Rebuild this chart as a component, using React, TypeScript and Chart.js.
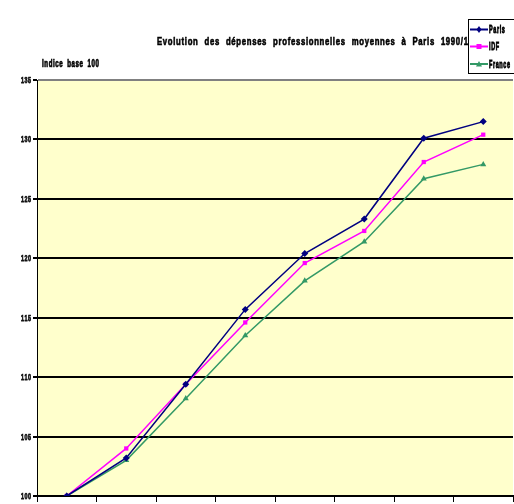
import React, { useEffect, useRef } from "react";
import { Chart, registerables } from "chart.js";

Chart.register(...registerables);

const years = ["1990", "1991", "1992", "1993", "1994", "1995", "1996", "1997"];
const parisValues = [100, 103.2, 109.4, 115.7, 120.4, 123.3, 130.1, 131.5];
const idfValues = [100, 104.0, 109.4, 114.6, 119.6, 122.3, 128.1, 130.4];
const franceValues = [100, 103.0, 108.2, 113.5, 118.1, 121.4, 126.7, 127.9];
const yMin = 100;
const yMax = 135;
const yStep = 5;
const titleText = "Evolution des dépenses professionnelles moyennes à Paris 1990/1997";
const yAxisTitle = "Indice base 100";
const seriesNames = ["Paris", "IDF", "France"];

const FONT = '"Liberation Sans", Arial, sans-serif';

// draws text char by char with horizontal compression to mimic a narrow bitmap font
function condensedWidth(ctx: CanvasRenderingContext2D, text: string, sx: number, gap: number, space: number) {
  let w = 0;
  for (const ch of text) {
    if (ch === " ") w += space;
    else w += ctx.measureText(ch).width * sx + gap;
  }
  return w - gap;
}

function drawCondensed(
  ctx: CanvasRenderingContext2D,
  text: string,
  x: number,
  y: number,
  sx: number,
  gap: number,
  space: number
) {
  let cx = x;
  ctx.strokeStyle = ctx.fillStyle as string;
  for (const ch of text) {
    if (ch === " ") {
      cx += space;
      continue;
    }
    const w = ctx.measureText(ch).width;
    ctx.save();
    ctx.translate(cx, y);
    ctx.scale(sx, 1);
    ctx.fillText(ch, 0, 0);
    ctx.lineWidth = 0.45 / sx;
    ctx.strokeText(ch, 0, 0);
    ctx.restore();
    cx += w * sx + gap;
  }
}

function fitScale(ctx: CanvasRenderingContext2D, text: string, target: number, gap: number, space: number) {
  let natural = 0;
  let n = 0;
  let s = 0;
  for (const ch of text) {
    if (ch === " ") s++;
    else {
      natural += ctx.measureText(ch).width;
      n++;
    }
  }
  return (target - s * space - (n - 1) * gap) / natural;
}

export default function App() {
  const ref = useRef<HTMLCanvasElement | null>(null);

  useEffect(() => {
    const canvas = ref.current;
    if (!canvas) return;

    const bgPlugin = {
      id: "bg",
      beforeDraw(chart: any) {
        const { ctx, chartArea } = chart;
        ctx.save();
        ctx.fillStyle = "#FFFFCC";
        ctx.fillRect(chartArea.left, chartArea.top, chartArea.right - chartArea.left, chartArea.bottom - chartArea.top);
        ctx.restore();
      },
    };

    const textPlugin = {
      id: "texts",
      afterDraw(chart: any) {
        const { ctx } = chart;
        ctx.save();
        ctx.fillStyle = "#000";
        ctx.textAlign = "left";
        ctx.textBaseline = "alphabetic";

        // title (prefix up to "1990/1" spans to the legend box)
        ctx.font = `bold 11px ${FONT}`;
        const prefix = titleText.slice(0, titleText.indexOf("1990/1") + 6);
        const tGap = 0.7, tSpace = 6;
        const tsx = fitScale(ctx, prefix, 311, tGap, tSpace);
        drawCondensed(ctx, titleText, 157, 44.5, tsx, tGap, tSpace);

        // y axis title
        ctx.font = `bold 10px ${FONT}`;
        const aGap = 0.6, aSpace = 4;
        const asx = fitScale(ctx, yAxisTitle, 57, aGap, aSpace);
        drawCondensed(ctx, yAxisTitle, 42, 67, asx, aGap, aSpace);

        // y tick labels
        const ys = chart.scales.y;
        ctx.font = `bold 9px ${FONT}`;
        ctx.fillStyle = "#111";
        ys.ticks.forEach((t: any) => {
          const label = String(t.value);
          const py = ys.getPixelForValue(t.value);
          const lsx = 0.6, lgap = 0.5;
          const w = condensedWidth(ctx, label, lsx, lgap, 2);
          drawCondensed(ctx, label, 31 - w, py + 3, lsx, lgap, 2);
        });

        // legend
        const lx = 468, ly = 19, lw = 60, lh = 54;
        ctx.fillStyle = "#fff";
        ctx.fillRect(lx, ly, lw, lh);
        ctx.strokeStyle = "#000";
        ctx.lineWidth = 1;
        ctx.strokeRect(lx + 0.5, ly + 0.5, lw, lh);
        const rows = [29.5, 46.5, 64];
        chart.data.datasets.forEach((ds: any, i: number) => {
          const y = rows[i];
          ctx.strokeStyle = ds.borderColor;
          ctx.lineWidth = 2;
          ctx.beginPath();
          ctx.moveTo(470, y);
          ctx.lineTo(488, y);
          ctx.stroke();
          ctx.fillStyle = ds.borderColor;
          const cx = 479;
          ctx.beginPath();
          if (ds.pointStyle === "rectRot") {
            ctx.moveTo(cx, y - 3.5);
            ctx.lineTo(cx + 2.5, y);
            ctx.lineTo(cx, y + 3.5);
            ctx.lineTo(cx - 2.5, y);
          } else if (ds.pointStyle === "rect") {
            ctx.rect(cx - 2.5, y - 2.5, 5, 5);
          } else {
            ctx.moveTo(cx, y - 3);
            ctx.lineTo(cx + 3, y + 2.5);
            ctx.lineTo(cx - 3, y + 2.5);
          }
          ctx.closePath();
          ctx.fill();
          ctx.fillStyle = "#000";
          ctx.font = `bold 10px ${FONT}`;
          ctx.textBaseline = "alphabetic";
          drawCondensed(ctx, ds.label, 489, y + 3.5, 0.55, 0.6, 3);
        });
        ctx.restore();
      },
    };

    const chart = new Chart(canvas, {
      type: "line",
      data: {
        labels: years,
        datasets: [
          {
            label: seriesNames[0],
            data: parisValues,
            borderColor: "#000080",
            backgroundColor: "#000080",
            borderWidth: 1.5,
            pointStyle: "rectRot",
            pointRadius: 3.5,
            pointBorderWidth: 0,
          },
          {
            label: seriesNames[1],
            data: idfValues,
            borderColor: "#FF00FF",
            backgroundColor: "#FF00FF",
            borderWidth: 1.5,
            pointStyle: "rect",
            pointRadius: 3,
            pointBorderWidth: 0,
          },
          {
            label: seriesNames[2],
            data: franceValues,
            borderColor: "#339966",
            backgroundColor: "#339966",
            borderWidth: 1.5,
            pointStyle: "triangle",
            pointRadius: 3.5,
            pointBorderWidth: 0,
          },
        ] as any,
      },
      options: {
        responsive: false,
        animation: false,
        devicePixelRatio: 1,
        layout: { padding: { top: 80, left: 0, right: 0, bottom: 0 } },
        plugins: {
          legend: { display: false },
          title: { display: false },
          tooltip: { enabled: false },
        },
        scales: {
          x: {
            offset: true,
            grid: {
              offset: true,
              drawOnChartArea: false,
              drawTicks: true,
              tickLength: 6,
              color: "#000",
              lineWidth: 1,
            },
            border: { display: true, color: "#000", width: 2 },
            ticks: { color: "#000", font: { family: FONT, size: 9, weight: "bold" } },
            afterFit(scale: any) {
              scale.height = 34;
            },
          },
          y: {
            min: yMin,
            max: yMax,
            ticks: {
              stepSize: yStep,
              display: false,
            },
            grid: {
              color: (c: any) => (c.tick && c.tick.value === yMax ? "#808080" : "#000"),
              lineWidth: 2,
              tickLength: 4,
              tickColor: "#000",
              tickWidth: 2,
            },
            border: { display: true, color: "#000", width: 1 },
            afterFit(scale: any) {
              scale.width = 37;
            },
          },
        },
      },
      plugins: [bgPlugin, textPlugin],
    });

    return () => chart.destroy();
  }, []);

  return (
    <div
      style={{
        position: "fixed",
        left: 0,
        top: 0,
        width: 514,
        height: 504,
        overflow: "hidden",
        background: "#fff",
      }}
    >
      <canvas ref={ref} width={517} height={530} style={{ width: 517, height: 530, display: "block" }} />
    </div>
  );
}
